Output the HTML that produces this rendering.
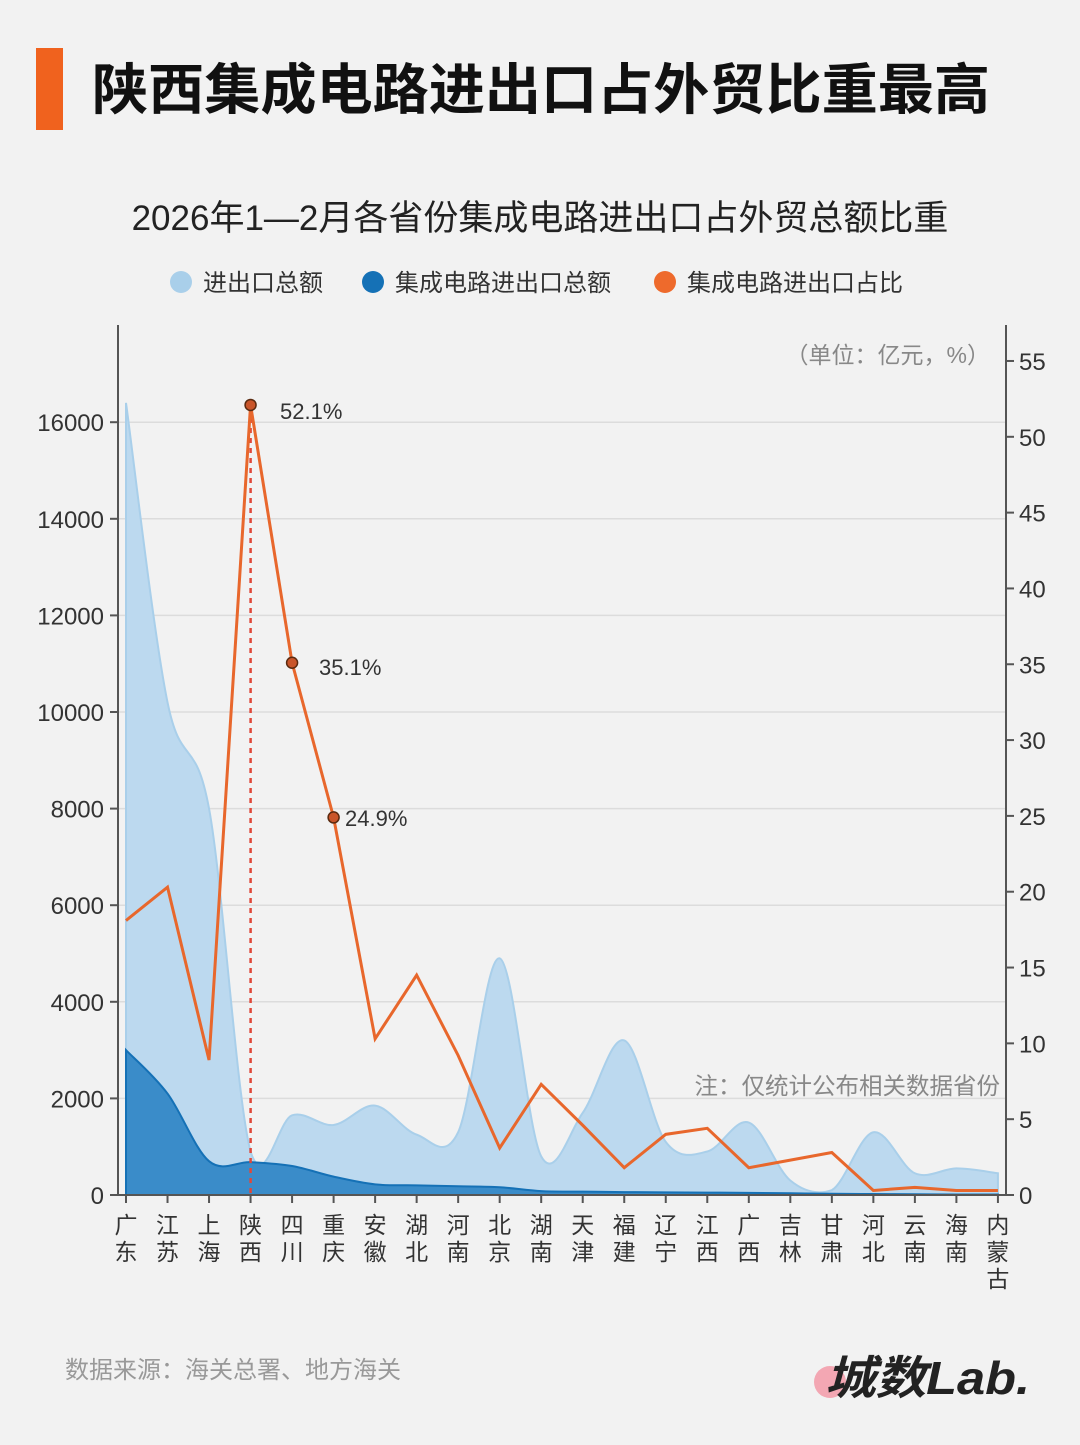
<!DOCTYPE html>
<html><head><meta charset="utf-8">
<style>
html,body{margin:0;padding:0;background:#f2f2f2;}
body{width:1080px;height:1440px;position:relative;overflow:hidden;font-family:"Liberation Sans","Noto Sans CJK SC",sans-serif;}
svg text{font-family:"Liberation Sans","Noto Sans CJK SC",sans-serif;}
</style></head>
<body>
<svg id="s" width="1080" height="1440" viewBox="0 0 1080 1440" xmlns="http://www.w3.org/2000/svg">
<rect x="0" y="0" width="1080" height="1440" fill="#f2f2f2"/>
<rect x="36" y="48" width="27" height="82" fill="#f0621e"/>
<text x="92" y="109" font-size="55" font-weight="bold" fill="#111" textLength="898" lengthAdjust="spacingAndGlyphs">陕西集成电路进出口占外贸比重最高</text>
<text x="540" y="230" font-size="35" fill="#222" text-anchor="middle">2026年1—2月各省份集成电路进出口占外贸总额比重</text>
<circle cx="181" cy="282" r="11" fill="#a9cfea"/>
<text x="203" y="291" font-size="24" fill="#333">进出口总额</text>
<circle cx="373" cy="282" r="11" fill="#1571b6"/>
<text x="395" y="291" font-size="24" fill="#333">集成电路进出口总额</text>
<circle cx="665" cy="282" r="11" fill="#ee6a2c"/>
<text x="687" y="291" font-size="24" fill="#333">集成电路进出口占比</text>
<g id="grid"></g>
<path id="tot" fill="#bcd9ef" stroke="#a9cfea" stroke-width="2"/>
<path id="ic" fill="#3a8cc9" stroke="#1571b6" stroke-width="2"/>
<line x1="250.6" y1="408" x2="250.6" y2="1195" stroke="#e0483a" stroke-width="2.5" stroke-dasharray="5,5"/>
<polyline id="pct" fill="none" stroke="#e8672c" stroke-width="3"/>
<g id="axes"></g>
<text x="990" y="363" font-size="23" fill="#888" text-anchor="end">（单位：亿元，%）</text>
<text x="1000" y="1094" font-size="23.5" fill="#888" text-anchor="end">注：仅统计公布相关数据省份</text>
<text x="280" y="419" font-size="22" fill="#333">52.1%</text>
<text x="319" y="675" font-size="22" fill="#333">35.1%</text>
<text x="345" y="826" font-size="22" fill="#333">24.9%</text>
<text x="65" y="1378" font-size="24" fill="#999">数据来源：海关总署、地方海关</text>
<circle cx="830" cy="1382" r="16" fill="#f3a7b3"/>
<text x="825" y="1394" font-size="46" font-weight="bold" font-style="italic" fill="#222" textLength="205" lengthAdjust="spacingAndGlyphs">城数Lab.</text>
</svg>
<script>
var names=["广东","江苏","上海","陕西","四川","重庆","安徽","湖北","河南","北京","湖南","天津","福建","辽宁","江西","广西","吉林","甘肃","河北","云南","海南","内蒙古"];
var tot=[16400,10200,8000,900,1650,1450,1850,1250,1300,4900,800,1700,3200,1100,900,1500,300,100,1300,450,550,450];
var ic=[3000,2100,700,680,600,380,220,200,180,160,80,70,60,55,50,45,35,25,20,15,10,10];
var pct=[18.1,20.3,8.9,52.1,35.1,24.9,10.3,14.5,9.2,3.1,7.3,4.6,1.8,4.0,4.4,1.8,2.3,2.8,0.3,0.5,0.3,0.3];
function X(i){return 126+41.52*i}
function YL(v){return 1195-v*0.0483}
function YR(p){return 1195-p*15.164}
function smooth(vals){
 var p=vals.map(function(v,i){return [X(i),YL(v)]});
 var d="M"+p[0][0]+",1195 L"+p[0][0]+","+p[0][1];
 for(var i=0;i<p.length-1;i++){
  var p0=p[i-1]||p[i],p1=p[i],p2=p[i+1],p3=p[i+2]||p2;
  var c1=[p1[0]+(p2[0]-p0[0])/6,Math.min(1195,p1[1]+(p2[1]-p0[1])/6)];
  var c2=[p2[0]-(p3[0]-p1[0])/6,Math.min(1195,p2[1]-(p3[1]-p1[1])/6)];
  d+=" C"+c1+" "+c2+" "+p2;
 }
 d+=" L"+p[p.length-1][0]+",1195 Z";return d;
}
document.getElementById("tot").setAttribute("d",smooth(tot));
document.getElementById("ic").setAttribute("d",smooth(ic));
document.getElementById("pct").setAttribute("points",pct.map(function(p,i){return X(i)+","+YR(p)}).join(" "));
var ns="http://www.w3.org/2000/svg";
function el(t,a,par,txt){var e=document.createElementNS(ns,t);for(var k in a)e.setAttribute(k,a[k]);if(txt!=null)e.textContent=txt;document.getElementById(par).appendChild(e);return e;}
for(var v=2000;v<=16000;v+=2000){el("line",{x1:118,x2:1006,y1:YL(v),y2:YL(v),stroke:"#dcdcdc","stroke-width":1.5},"grid");}
el("line",{x1:118,x2:118,y1:325,y2:1195,stroke:"#555","stroke-width":2},"axes");
el("line",{x1:1006,x2:1006,y1:325,y2:1195,stroke:"#555","stroke-width":2},"axes");
el("line",{x1:118,x2:1006,y1:1195,y2:1195,stroke:"#555","stroke-width":2},"axes");
for(var v=0;v<=16000;v+=2000){var y=YL(v);el("line",{x1:110,x2:118,y1:y,y2:y,stroke:"#555","stroke-width":2},"axes");el("text",{x:104,y:y+9,"font-size":24,fill:"#333","text-anchor":"end"},"axes",v);}
for(var p=0;p<=55;p+=5){var y=YR(p);el("line",{x1:1006,x2:1014,y1:y,y2:y,stroke:"#555","stroke-width":2},"axes");el("text",{x:1019,y:y+9,"font-size":24,fill:"#333"},"axes",p);}
names.forEach(function(n,i){var x=X(i);el("line",{x1:x,x2:x,y1:1195,y2:1203,stroke:"#555","stroke-width":2},"axes");for(var k=0;k<n.length;k++)el("text",{x:x,y:1233+k*27,"font-size":23,fill:"#333","text-anchor":"middle"},"axes",n[k]);});
[3,4,5].forEach(function(i){el("circle",{cx:X(i),cy:YR(pct[i]),r:5.5,fill:"#c9552a",stroke:"#5a2a10","stroke-width":1.5},"axes");});
</script>
</body></html>
